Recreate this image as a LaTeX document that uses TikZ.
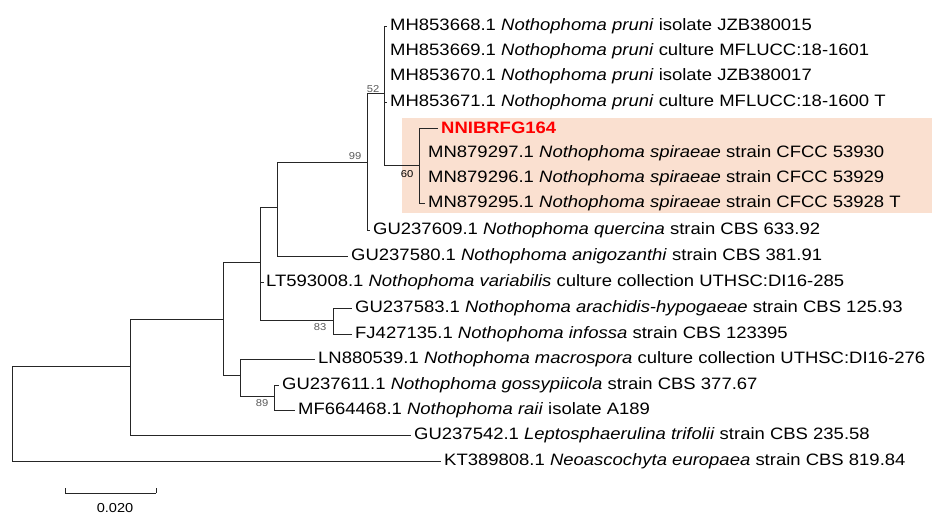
\documentclass[tikz,border=0pt]{standalone}
\usepackage{fontspec}
\setmainfont[FakeStretch=1.12]{Liberation Sans}
\definecolor{hl}{RGB}{250,224,208}
\begin{document}
\begin{tikzpicture}[x=1pt,y=-1pt,
  leaf/.style={anchor=west,inner sep=0pt,font=\fontsize{16.5}{18}\selectfont},
  br/.style={line width=0.8pt,black!85},
  boot/.style={font=\fontsize{10}{11}\selectfont,text=black!65,inner sep=0pt}]
\useasboundingbox (0,0) rectangle (944,528);
\fill[hl] (402,118) rectangle (932,213);
% internal nodes (x of vertical, y of incoming branch)
\coordinate (R) at (12,366);
\coordinate (A) at (130,366);
\coordinate (B) at (223,319);
\coordinate (C) at (240,375);
\coordinate (D) at (274,396);
\coordinate (E) at (260,262);
\coordinate (F) at (333,320);
\coordinate (G) at (277,207);
\coordinate (H) at (367,162);
\coordinate (I) at (384,93);
\coordinate (J) at (419,165);
% leaves
\node[leaf] (l1) at (390,26) {MH853668.1 \textit{Nothophoma pruni} isolate JZB380015};
\node[leaf] (l2) at (390,51) {MH853669.1 \textit{Nothophoma pruni} culture MFLUCC:18-1601};
\node[leaf] (l3) at (390,76) {MH853670.1 \textit{Nothophoma pruni} isolate JZB380017};
\node[leaf] (l4) at (390,102) {MH853671.1 \textit{Nothophoma pruni} culture MFLUCC:18-1600 T};
\node[leaf,text=red,font=\fontsize{16.5}{18}\selectfont\bfseries] (l5) at (441,128) {NNIBRFG164};
\node[leaf] (l6) at (428,153) {MN879297.1 \textit{Nothophoma spiraeae} strain CFCC 53930};
\node[leaf] (l7) at (428,178) {MN879296.1 \textit{Nothophoma spiraeae} strain CFCC 53929};
\node[leaf] (l8) at (428,203) {MN879295.1 \textit{Nothophoma spiraeae} strain CFCC 53928 T};
\node[leaf] (l9) at (373,230) {GU237609.1 \textit{Nothophoma quercina} strain CBS 633.92};
\node[leaf] (l10) at (351,256) {GU237580.1 \textit{Nothophoma anigozanthi} strain CBS 381.91};
\node[leaf] (l11) at (266,282) {LT593008.1 \textit{Nothophoma variabilis} culture collection UTHSC:DI16-285};
\node[leaf] (l12) at (355,308) {GU237583.1 \textit{Nothophoma arachidis-hypogaeae} strain CBS 125.93};
\node[leaf] (l13) at (355,334) {FJ427135.1 \textit{Nothophoma infossa} strain CBS 123395};
\node[leaf] (l14) at (318,359) {LN880539.1 \textit{Nothophoma macrospora} culture collection UTHSC:DI16-276};
\node[leaf] (l15) at (282,385) {GU237611.1 \textit{Nothophoma gossypiicola} strain CBS 377.67};
\node[leaf] (l16) at (298,410) {MF664468.1 \textit{Nothophoma raii} isolate A189};
\node[leaf] (l17) at (414,435) {GU237542.1 \textit{Leptosphaerulina trifolii} strain CBS 235.58};
\node[leaf] (l18) at (444,461) {KT389808.1 \textit{Neoascochyta europaea} strain CBS 819.84};
% branches
\draw[br] (R) -- (A);
\draw[br] (R) |- ([xshift=-3pt]l18.west);
\draw[br] (A) |- (B);
\draw[br] (A) |- ([xshift=-3pt]l17.west);
\draw[br] (B) |- (E);
\draw[br] (B) |- (C);
\draw[br] (C) |- ([xshift=-3pt]l14.west);
\draw[br] (C) |- (D);
\draw[br] (D) |- ([xshift=-3pt]l15.west);
\draw[br] (D) |- ([xshift=-3pt]l16.west);
\draw[br] (E) |- (G);
\draw[br] (E) |- ([xshift=-2pt]l11.west);
\draw[br] (E) |- (F);
\draw[br] (F) |- ([xshift=-3pt]l12.west);
\draw[br] (F) |- ([xshift=-3pt]l13.west);
\draw[br] (G) |- (H);
\draw[br] (G) |- ([xshift=-3pt]l10.west);
\draw[br] (H) |- (I);
\draw[br] (H) |- ([xshift=-3pt]l9.west);
\draw[br] (I) |- ([xshift=-3pt]l1.west);
\draw[br] (I) |- ([xshift=-3pt]l4.west);
\draw[br] (I) |- (J);
\draw[br] (J) |- ([xshift=-3pt]l5.west);
\draw[br] (J) |- ([xshift=-3pt]l8.west);
% bootstrap
\node[boot] at (373,89) {52};
\node[boot] at (355,156) {99};
\node[boot,text=black] at (407,174) {60};
\node[boot] at (320,327) {83};
\node[boot] at (262,403) {89};
% scale bar
\coordinate (s1) at (65,493);
\coordinate (s2) at (156,493);
\draw[br] (s1) -- (s2);
\draw[br] (s1) -- ++(0,-5);
\draw[br] (s2) -- ++(0,-5);
\node[font=\fontsize{13}{15}\selectfont] (sl) at (115,508) {0.020};
\end{tikzpicture}
\end{document}
